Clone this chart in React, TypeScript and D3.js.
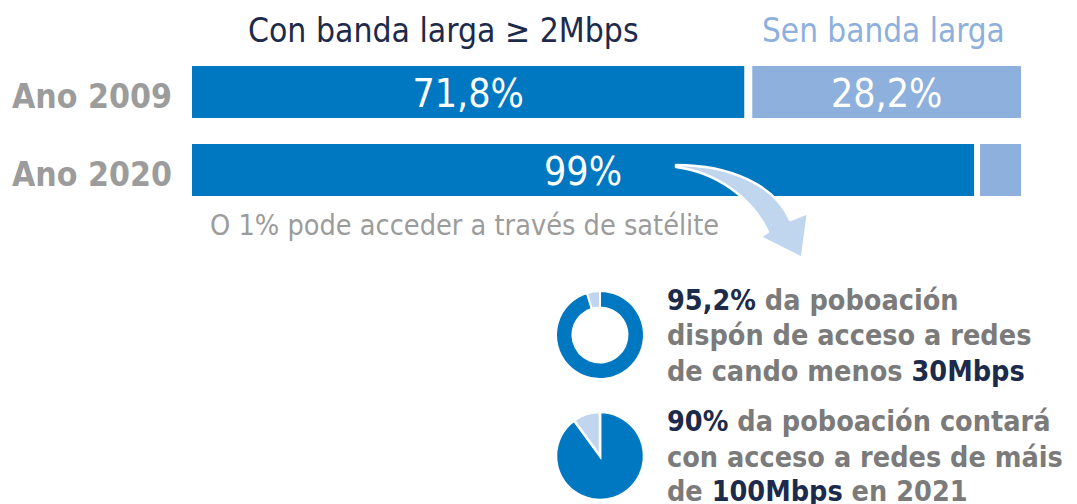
import React from "react";
import * as d3 from "d3";

const years = ["Ano 2009", "Ano 2020"];
// bar split as drawn in the picture (share of bar with broadband)
const broadbandShare = [67.1, 94.7];
const broadbandLabels = ["71,8%", "99%"];
const noBroadbandLabels = ["28,2%", ""];
const legendLabels = ["Con banda larga ≥ 2Mbps", "Sen banda larga"];
const donutValues = [95.2, 4.8];
const pieValues = [90, 10];

const W = 1077;
const H = 504;
const FONT = "'DejaVu Sans Condensed', 'DejaVu Sans', Verdana, sans-serif";
const DARK = "#0078c1";
const LIGHT = "#8eb0dc";
const PALE = "#c0d5ee";
const NAVY = "#1c2a4b";
const GRAY = "#7b7b7b";
const LGRAY = "#9c9c9c";

export default function App() {
  const x = d3.scaleLinear().domain([0, 100]).range([192, 1021]);
  const y = d3.scaleBand<string>().domain(years).range([66, 196]).paddingInner(1 / 3);
  const bw = y.bandwidth();

  const pie = d3.pie<number>().sort(null).value((d) => d);
  const donutArc = d3.arc<d3.PieArcDatum<number>>().innerRadius(27.5).outerRadius(44);
  const pieArc = d3.arc<d3.PieArcDatum<number>>().innerRadius(0).outerRadius(44);

  const arrowPath =
    "M676,165 C730,165 775,185 790,220 L808,213 L802,258 L760,237 L768,232 C752,197 715,172 676,167 Z";

  const lh = 35.5;
  return (
    <svg
      width={W}
      height={H}
      style={{ position: "absolute", left: 0, top: 0, background: "#fff" }}
      fontFamily={FONT}
    >
      {/* legend */}
      <text x={248} y={42} fontSize={33.4} fill={NAVY}>
        {legendLabels[0]}
      </text>
      <text x={762} y={42} fontSize={33} fill={LIGHT}>
        {legendLabels[1]}
      </text>

      {years.map((yr, i) => {
        const y0 = y(yr)!;
        const split = x(broadbandShare[i]);
        const gap = i === 0 ? 4 : 3;
        const cy = y0 + bw / 2;
        return (
          <g key={yr}>
            <text x={12} y={cy + 15.5} fontSize={33.5} fontWeight="bold" fill={LGRAY}>
              {yr}
            </text>
            <rect x={x(0)} y={y0} width={split - gap - x(0)} height={bw} fill={DARK} />
            <rect x={split + gap} y={y0} width={x(100) - split - gap} height={bw} fill={LIGHT} />
            <text
              x={(x(0) + split - gap) / 2}
              y={cy + 15}
              fontSize={39}
              fill="#fff"
              textAnchor="middle"
            >
              {broadbandLabels[i]}
            </text>
            {noBroadbandLabels[i] && (
              <text
                x={(split + gap + x(100)) / 2}
                y={cy + 15}
                fontSize={39}
                fill="#fff"
                textAnchor="middle"
              >
                {noBroadbandLabels[i]}
              </text>
            )}
          </g>
        );
      })}

      <text x={210} y={235} fontSize={28.6} fill={LGRAY}>
        O 1% pode acceder a través de satélite
      </text>

      <path d={arrowPath} fill={PALE} stroke="#fff" strokeWidth={2.5} strokeLinejoin="round" />

      {/* donut */}
      <g transform="translate(600,335)">
        {pie(donutValues).map((a, i) => (
          <path key={i} d={donutArc(a)!} fill={i === 0 ? DARK : PALE} stroke="#fff" strokeWidth={2} />
        ))}
      </g>
      {/* pie */}
      <g transform="translate(600,456)">
        {pie(pieValues).map((a, i) => (
          <path key={i} d={pieArc(a)!} fill={i === 0 ? DARK : PALE} stroke="#fff" strokeWidth={2.5} />
        ))}
      </g>

      <g fontSize={28.5} fontWeight="bold" fill={GRAY}>
        <text x={667} y={309.5}>
          <tspan fill={NAVY}>95,2%</tspan> da poboación
        </text>
        <text x={667} y={309.5 + lh}>dispón de acceso a redes</text>
        <text x={667} y={309.5 + 2 * lh}>
          de cando menos <tspan fill={NAVY}>30Mbps</tspan>
        </text>
        <text x={667} y={431}>
          <tspan fill={NAVY}>90%</tspan> da poboación contará
        </text>
        <text x={667} y={431 + lh}>con acceso a redes de máis</text>
        <text x={667} y={431 + 2 * lh - 1}>
          de <tspan fill={NAVY}>100Mbps</tspan> en 2021
        </text>
      </g>
    </svg>
  );
}
